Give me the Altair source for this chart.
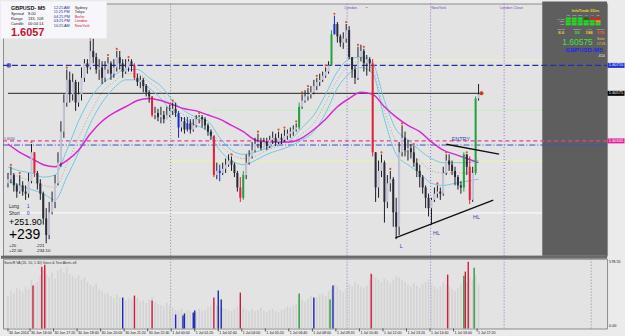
import altair as alt
import pandas as pd

FONT = "Liberation Sans"

# ---------------------------------------------------------------- values
# GBPUSD M5, one candle every 10 minutes, minute 0 = 30 Jun 2014 14:45
bar_minute = list(range(0, 1610, 10))
first_open = 1.6014
close = [1.6016, 1.6018, 1.6013, 1.6010, 1.6013, 1.6010, 1.6009, 1.6015, 1.6029, 1.6019,
         1.6014, 1.6009, 1.5997, 1.5989, 1.6000, 1.6005, 1.6014, 1.6024, 1.6039, 1.6053,
         1.6064, 1.6057, 1.6063, 1.6053, 1.6057, 1.6065, 1.6072, 1.6070, 1.6078, 1.6075,
         1.6069, 1.6070, 1.6065, 1.6069, 1.6072, 1.6067, 1.6070, 1.6075, 1.6072, 1.6068,
         1.6070, 1.6073, 1.6071, 1.6065, 1.6063, 1.6064, 1.6061, 1.6058, 1.6056, 1.6047,
         1.6048, 1.6046, 1.6047, 1.6045, 1.6047, 1.6049, 1.6050, 1.6048, 1.6041, 1.6044,
         1.6040, 1.6043, 1.6040, 1.6042, 1.6045, 1.6046, 1.6045, 1.6042, 1.6039, 1.6037,
         1.6018, 1.6020, 1.6019, 1.6021, 1.6023, 1.6025, 1.6023, 1.6019, 1.6012, 1.6007,
         1.6018, 1.6024, 1.6027, 1.6030, 1.6033, 1.6034, 1.6031, 1.6034, 1.6032, 1.6035,
         1.6036, 1.6034, 1.6036, 1.6035, 1.6037, 1.6038, 1.6039, 1.6040, 1.6041, 1.6051,
         1.6054, 1.6056, 1.6057, 1.6058, 1.6061, 1.6063, 1.6064, 1.6066, 1.6068, 1.6071,
         1.6086, 1.6091, 1.6085, 1.6082, 1.6084, 1.6088, 1.6075, 1.6069, 1.6065, 1.6075,
         1.6078, 1.6072, 1.6074, 1.6072, 1.6029, 1.6012, 1.6020, 1.6024, 1.6005, 1.6014,
         1.6016, 1.6000, 1.5993, 1.6029, 1.6036, 1.6030, 1.6031, 1.6029, 1.6024, 1.6020,
         1.6017, 1.6012, 1.6007, 1.6002, 1.6006, 1.6009, 1.6010, 1.6009, 1.6019, 1.6025,
         1.6023, 1.6020, 1.6017, 1.6013, 1.6012, 1.6028, 1.6022, 1.6006, 1.6019, 1.6055,
         1.6057]
high = [1.6019, 1.6022, 1.6019, 1.6014, 1.6018, 1.6015, 1.6013, 1.6019, 1.6033, 1.6029,
        1.6020, 1.6016, 1.6010, 1.6002, 1.6005, 1.6010, 1.6018, 1.6029, 1.6044, 1.6057,
        1.6069, 1.6068, 1.6067, 1.6064, 1.6063, 1.6070, 1.6074, 1.6074, 1.6083, 1.6084,
        1.6077, 1.6074, 1.6073, 1.6073, 1.6075, 1.6073, 1.6074, 1.6078, 1.6078, 1.6074,
        1.6074, 1.6074, 1.6074, 1.6072, 1.6067, 1.6066, 1.6065, 1.6062, 1.6059, 1.6056,
        1.6051, 1.6050, 1.6051, 1.6049, 1.6051, 1.6052, 1.6053, 1.6053, 1.6049, 1.6046,
        1.6046, 1.6046, 1.6045, 1.6045, 1.6047, 1.6047, 1.6047, 1.6046, 1.6043, 1.6040,
        1.6037, 1.6024, 1.6023, 1.6024, 1.6026, 1.6028, 1.6027, 1.6024, 1.6020, 1.6017,
        1.6020, 1.6028, 1.6030, 1.6034, 1.6036, 1.6038, 1.6036, 1.6036, 1.6036, 1.6037,
        1.6039, 1.6038, 1.6039, 1.6038, 1.6040, 1.6040, 1.6041, 1.6042, 1.6043, 1.6053,
        1.6057, 1.6059, 1.6060, 1.6061, 1.6064, 1.6065, 1.6067, 1.6068, 1.6070, 1.6073,
        1.6088, 1.6095, 1.6092, 1.6086, 1.6087, 1.6091, 1.6090, 1.6075, 1.6071, 1.6080,
        1.6081, 1.6079, 1.6076, 1.6075, 1.6074, 1.6029, 1.6025, 1.6028, 1.6025, 1.6018,
        1.6020, 1.6017, 1.6007, 1.6034, 1.6042, 1.6039, 1.6035, 1.6033, 1.6032, 1.6026,
        1.6023, 1.6018, 1.6013, 1.6009, 1.6007, 1.6012, 1.6013, 1.6012, 1.6022, 1.6028,
        1.6028, 1.6025, 1.6022, 1.6018, 1.6015, 1.6029, 1.6028, 1.6027, 1.6022, 1.6056,
        1.6062]
low = [1.6012, 1.6014, 1.6010, 1.6007, 1.6009, 1.6008, 1.6006, 1.6007, 1.6014, 1.6017,
       1.6011, 1.6006, 1.5994, 1.5985, 1.5987, 1.5999, 1.6002, 1.6013, 1.6022, 1.6036,
       1.6051, 1.6053, 1.6054, 1.6049, 1.6051, 1.6054, 1.6063, 1.6067, 1.6069, 1.6072,
       1.6067, 1.6064, 1.6062, 1.6063, 1.6067, 1.6064, 1.6065, 1.6068, 1.6069, 1.6065,
       1.6067, 1.6068, 1.6068, 1.6064, 1.6061, 1.6060, 1.6058, 1.6056, 1.6053, 1.6046,
       1.6045, 1.6044, 1.6043, 1.6043, 1.6045, 1.6046, 1.6047, 1.6046, 1.6036, 1.6039,
       1.6038, 1.6039, 1.6038, 1.6039, 1.6041, 1.6043, 1.6041, 1.6040, 1.6037, 1.6035,
       1.6017, 1.6016, 1.6015, 1.6018, 1.6019, 1.6022, 1.6020, 1.6017, 1.6010, 1.6005,
       1.6006, 1.6016, 1.6023, 1.6026, 1.6029, 1.6031, 1.6030, 1.6031, 1.6030, 1.6031,
       1.6033, 1.6032, 1.6033, 1.6033, 1.6034, 1.6035, 1.6036, 1.6037, 1.6039, 1.6040,
       1.6050, 1.6053, 1.6054, 1.6055, 1.6057, 1.6059, 1.6061, 1.6063, 1.6065, 1.6067,
       1.6071, 1.6086, 1.6082, 1.6080, 1.6079, 1.6082, 1.6074, 1.6065, 1.6062, 1.6064,
       1.6073, 1.6068, 1.6066, 1.6068, 1.6027, 1.6005, 1.6007, 1.6017, 1.5995, 1.6002,
       1.6010, 1.5993, 1.5987, 1.5989, 1.6027, 1.6027, 1.6025, 1.6026, 1.6022, 1.6017,
       1.6012, 1.6009, 1.6002, 1.5998, 1.5994, 1.6005, 1.6007, 1.6006, 1.6008, 1.6018,
       1.6020, 1.6018, 1.6013, 1.6011, 1.6009, 1.6010, 1.6018, 1.6004, 1.6005, 1.6018,
       1.6054]
# SonicR VA candle classes: dn = climax down, up = climax up, lv = low volume
special = {9: "dn", 43: "dn", 49: "dn", 70: "dn", 79: "dn", 124: "dn", 157: "dn",
           80: "up", 99: "up", 110: "up", 155: "up", 159: "up",
           58: "lv", 61: "lv", 72: "lv", 111: "lv"}
fractal_bars = [1, 4, 8, 20, 28, 34, 37, 41, 56, 65, 76, 85, 92, 94, 98, 100, 102, 105,
                108, 111, 115, 119, 121, 127, 130, 134, 138, 146, 149, 156]

volume = [280, 320, 300, 350, 330, 310, 360, 340,
          420, 380, 400, 460, 500, 470, 440, 480, 430,
          500, 520, 480, 530, 470, 450, 430,
          460, 420, 440, 400, 380, 360, 390, 340, 320, 300,
          300, 280, 260, 290, 270, 250, 240, 260, 250, 270,
          260, 230, 240, 220, 250, 270, 230, 210, 200, 190, 220, 200,
          180, 160, 150, 170, 140, 160, 150, 130, 140, 170, 150, 160, 180, 200, 230, 200,
          190, 180, 170, 160, 150, 170, 190, 210, 180, 160, 150,
          170, 150, 160, 180, 150, 140, 160, 170, 150, 140, 160, 170, 190, 180, 200, 210, 240,
          250, 230, 260, 280, 250, 270, 290, 300, 280, 320, 340, 380, 360, 330, 310,
          340, 380, 360, 400, 380, 360, 350, 370, 420, 460, 440, 420, 400, 430, 410, 390, 420, 450,
          440, 420, 400, 380, 360, 390, 370, 350, 380, 400, 420, 380, 360, 340,
          360, 400, 380, 360, 340, 320, 350, 380, 420, 400, 440, 420, 460, 380]
vol_col_minute = [85, 115, 125, 390, 430, 490, 570, 595, 600, 630, 635, 700, 715, 725,
                  790, 990, 1040, 1095, 1105, 1235, 1495, 1550, 1555, 1565, 1585]
vol_col_value = [369, 531, 549, 266, 283, 240, 120, 111, 129, 137, 154, 266, 326, 249,
                 309, 300, 266, 249, 369, 471, 463, 454, 489, 574, 523]
vol_col_kind = ["dn", "dn", "dn", "lv", "dn", "dn", "lv", "lv", "lv", "lv", "lv", "dn", "lv", "lv",
                "dn", "up", "lv", "up", "lv", "dn", "dn", "up", "dn", "dn", "up"]

ema_minute = list(range(0, 1640, 40))
ema_magenta = [1.6033, 1.6029, 1.6026, 1.6023, 1.6022, 1.6025, 1.6030, 1.6038, 1.6044, 1.6048,
               1.6051, 1.6054, 1.6055, 1.6054, 1.6052, 1.6050, 1.6049, 1.6047, 1.6045, 1.6042,
               1.6039, 1.6035, 1.6034, 1.6034, 1.6034, 1.6036, 1.6040, 1.6045, 1.6051, 1.6055,
               1.6058, 1.6057, 1.6051, 1.6046, 1.6042, 1.6039, 1.6034, 1.6030, 1.6028, 1.6026,
               1.6024]
ema_hi = [1.6022, 1.6020, 1.6019, 1.6017, 1.6018, 1.6030, 1.6044, 1.6055, 1.6062, 1.6066,
          1.6069, 1.6069, 1.6065, 1.6061, 1.6054, 1.6049, 1.6046, 1.6044, 1.6036, 1.6030,
          1.6028, 1.6029, 1.6031, 1.6033, 1.6035, 1.6041, 1.6047, 1.6057, 1.6068, 1.6074,
          1.6075, 1.6072, 1.6054, 1.6040, 1.6035, 1.6030, 1.6026, 1.6024, 1.6024, 1.6024,
          1.6025]
ema_lo = [1.6015, 1.6013, 1.6011, 1.6009, 1.6006, 1.6017, 1.6029, 1.6043, 1.6053, 1.6060,
          1.6064, 1.6064, 1.6060, 1.6055, 1.6048, 1.6045, 1.6042, 1.6039, 1.6030, 1.6025,
          1.6023, 1.6025, 1.6028, 1.6030, 1.6032, 1.6035, 1.6039, 1.6048, 1.6060, 1.6067,
          1.6070, 1.6067, 1.6045, 1.6028, 1.6023, 1.6019, 1.6014, 1.6013, 1.6014, 1.6015,
          1.6016]
ema_mid = [1.6019, 1.6017, 1.6015, 1.6013, 1.6012, 1.6023, 1.6036, 1.6048, 1.6058, 1.6063,
           1.6067, 1.6067, 1.6063, 1.6058, 1.6051, 1.6047, 1.6045, 1.6042, 1.6033, 1.6028,
           1.6026, 1.6027, 1.6030, 1.6032, 1.6034, 1.6038, 1.6043, 1.6053, 1.6064, 1.6071,
           1.6073, 1.6069, 1.6049, 1.6034, 1.6029, 1.6025, 1.6020, 1.6019, 1.6019, 1.6019,
           1.6021]

price_ticks = [1.60995, 1.60935, 1.60875, 1.60815, 1.60755, 1.60695, 1.60635, 1.60575,
               1.60515, 1.60455, 1.60395, 1.60335, 1.60275, 1.60215, 1.60155, 1.60095,
               1.60035, 1.59975, 1.59915, 1.59855, 1.59795]
time_tick_minute = [0, 75, 155, 235, 315, 395, 475, 555, 635, 715, 795, 875, 955, 1035,
                    1115, 1195, 1275, 1355, 1435, 1515, 1595]
time_tick_label = ["30 Jun 2014", "30 Jun 16:00", "30 Jun 17:20", "30 Jun 18:40",
                   "30 Jun 20:00", "30 Jun 21:20", "30 Jun 22:40", "1 Jul 00:00",
                   "1 Jul 01:20", "1 Jul 02:40", "1 Jul 04:00", "1 Jul 05:20", "1 Jul 06:40",
                   "1 Jul 08:00", "1 Jul 09:20", "1 Jul 10:40", "1 Jul 12:00", "1 Jul 13:20",
                   "1 Jul 14:40", "1 Jul 16:00", "1 Jul 17:20"]

day_break_minute = [553]
session_minute = [1153, 1437, 1687]
right_marker_minute = [1983]

level_blue = 1.60710
level_bid = 1.60575
level_magenta = 1.60345
level_dashdot = 1.60325
bid_end_minute = 1610
pale_levels = [1.60734, 1.60247, 1.60493, 1.59997]
pale_start = [553, 553, 693, 0]
pale_colors = ["#eeeec2", "#eeeec2", "#c8ecc8", "#f6f6ff"]

support_t = [1317, 1650]
support_p = [1.59876, 1.60059]
resist_t = [1490, 1670]
resist_p = [1.60329, 1.60281]

mark_text_labels = ["ENTRY", "L", "HL", "HL"]
mark_text_t = [1540, 1337, 1457, 1593]
mark_text_p = [1.60353, 1.59838, 1.59900, 1.59977]

# ---------------------------------------------------------------- helpers
W, H_MAIN, H_VOL = 606, 253, 70
XS = alt.Scale(domain=[0, 2020], nice=False, zero=False)
YS = alt.Scale(domain=[1.59790, 1.61009], nice=False, zero=False)
VS = alt.Scale(domain=[0, 600], nice=False, zero=False)
ONE = alt.Data(values=[{"k": 0}])


def X(f):
    return alt.X(f, scale=XS, axis=None)


def Y(f):
    return alt.Y(f, scale=YS, axis=None)


def txt(s, x, y, size=4.0, color="#111111", weight="normal", align="left"):
    return alt.Chart(ONE).mark_text(
        text=s, fontSize=size, color=color, fontWeight=weight, align=align,
        baseline="middle", font=FONT
    ).encode(x=alt.value(x), y=alt.value(y))


def box(x1, x2, y1, y2, color):
    return alt.Chart(ONE).mark_rect(color=color).encode(
        x=alt.value(x1), x2=alt.value(x2), y=alt.value(y1), y2=alt.value(y2))


# ---------------------------------------------------------------- tables
opens = [first_open] + close[:-1]
kind = [special.get(i, "bull" if c >= o else "bear")
        for i, (o, c) in enumerate(zip(opens, close))]
candles = pd.DataFrame(dict(t=bar_minute, open=opens, high=high, low=low,
                            close=close, kind=kind))
frac = candles.iloc[fractal_bars]
ema = pd.DataFrame(dict(t=ema_minute, mag=ema_magenta, hi=ema_hi, lo=ema_lo, mid=ema_mid))
vol_df = pd.DataFrame(dict(t=bar_minute, v=volume))
volc_df = pd.DataFrame(dict(t=vol_col_minute, v=vol_col_value, kind=vol_col_kind))

kinds = ["bull", "bear", "dn", "up", "lv"]
body_scale = alt.Scale(domain=kinds, range=["#c2c4d8", "#2a2a38", "#e0203c", "#23a043", "#1c2cc4"])
wick_scale = alt.Scale(domain=kinds, range=["#1c1c26", "#1c1c26", "#e0203c", "#23a043", "#1c2cc4"])

price_axis = alt.Axis(orient="right", values=price_ticks, format=".5f", labelFontSize=4,
                      labelFont=FONT, labelColor="#111111", tickSize=2, tickColor="#555555",
                      labelPadding=1, domainColor="#8c8c8c", grid=False, title=None,
                      labelOverlap=False)

# ---------------------------------------------------------------- main panel
main_layers = []
for lvl, st, col in zip(pale_levels, pale_start, pale_colors):
    d = pd.DataFrame(dict(t0=[st], t1=[2020], p=[lvl]))
    main_layers.append(alt.Chart(d).mark_rule(color=col, strokeWidth=1.2).encode(
        x=X("t0:Q"), x2="t1:Q", y=Y("p:Q")))

# dark info panel
main_layers.append(box(541, 606, -2, 253, "#5e5e5e"))

main_layers.append(alt.Chart(pd.DataFrame(dict(t=day_break_minute))).mark_rule(
    color="#8a8a8a", strokeDash=[1, 2], strokeWidth=1).encode(
    x=X("t:Q"), y=alt.value(0), y2=alt.value(H_MAIN)))
main_layers.append(alt.Chart(pd.DataFrame(dict(t=session_minute))).mark_rule(
    color="#9a6ad8", strokeDash=[1, 2], strokeWidth=1).encode(
    x=X("t:Q"), y=alt.value(0), y2=alt.value(H_MAIN)))

for lvl, col, dash, sw in [(level_blue, "#2a2ab8", [6, 3], 1.1),
                           (level_magenta, "#e040a8", [4, 3], 1.1),
                           (level_dashdot, "#3a50c0", [6, 2, 1, 2], 1.0)]:
    main_layers.append(alt.Chart(pd.DataFrame(dict(p=[lvl]))).mark_rule(
        color=col, strokeDash=dash, strokeWidth=sw).encode(
        y=Y("p:Q"), x=alt.value(0), x2=alt.value(W)))
main_layers.append(alt.Chart(pd.DataFrame(dict(t0=[0], t1=[bid_end_minute], p=[level_bid]))).mark_rule(
    color="#222222", strokeWidth=1).encode(x=X("t0:Q"), x2="t1:Q", y=Y("p:Q")))

main_layers.append(alt.Chart(ema).mark_line(color="#70c8e4", strokeWidth=1, interpolate="monotone").encode(
    x=X("t:Q"), y=Y("hi:Q")))
main_layers.append(alt.Chart(ema).mark_line(color="#70c8e4", strokeWidth=1, interpolate="monotone").encode(
    x=X("t:Q"), y=Y("lo:Q")))
main_layers.append(alt.Chart(ema).mark_line(color="#9a9a9a", strokeWidth=0.8, strokeDash=[1, 2],
                                            interpolate="monotone").encode(x=X("t:Q"), y=Y("mid:Q")))
main_layers.append(alt.Chart(ema).mark_line(color="#d42ad0", strokeWidth=1.5, interpolate="monotone").encode(
    x=X("t:Q"), y=Y("mag:Q")))

# candles
main_layers.append(alt.Chart(candles).mark_rule(strokeWidth=1).encode(
    x=X("t:Q"), y=alt.Y("low:Q", scale=YS, axis=price_axis), y2="high:Q",
    stroke=alt.Stroke("kind:N", scale=wick_scale, legend=None)))
main_layers.append(alt.Chart(candles).mark_bar(size=2).encode(
    x=X("t:Q"), y=Y("open:Q"), y2="close:Q",
    fill=alt.Fill("kind:N", scale=body_scale, legend=None)))
main_layers.append(alt.Chart(frac).mark_circle(size=5, color="#e8502a", opacity=1, yOffset=-2).encode(
    x=X("t:Q"), y=Y("high:Q")))

# trend lines
tl = pd.DataFrame(dict(t1=[support_t[0], resist_t[0]], t2=[support_t[1], resist_t[1]],
                       p1=[support_p[0], resist_p[0]], p2=[support_p[1], resist_p[1]]))
main_layers.append(alt.Chart(tl).mark_rule(color="#111111", strokeWidth=1.4).encode(
    x=X("t1:Q"), x2="t2:Q", y=Y("p1:Q"), y2="p2:Q"))

main_layers.append(alt.Chart(pd.DataFrame(dict(t=[bid_end_minute], p=[level_bid]))).mark_circle(
    size=16, color="#e03020", opacity=1).encode(x=X("t:Q"), y=Y("p:Q")))
main_layers.append(alt.Chart(pd.DataFrame(dict(t=[3], p=[level_blue]))).mark_point(
    size=8, color="#2a2ab8", filled=False).encode(x=X("t:Q"), y=Y("p:Q")))

lab = pd.DataFrame(dict(t=mark_text_t, p=mark_text_p, s=mark_text_labels))
main_layers.append(alt.Chart(lab).mark_text(fontSize=5.5, color="#4040b0", font=FONT).encode(
    x=X("t:Q"), y=Y("p:Q"), text="s:N"))

# highlighted price boxes on the axis
for lvl, col, s in [(level_blue, "#2030d0", "1.60710"), (level_bid, "#000000", "1.60575"),
                    (level_magenta, "#e020a0", "1.60345")]:
    d = pd.DataFrame(dict(p=[lvl]))
    main_layers.append(alt.Chart(d).mark_tick(orient="horizontal", size=17, thickness=5,
                                              color=col, opacity=1).encode(
        x=alt.value(615), y=Y("p:Q")))
    main_layers.append(alt.Chart(d).mark_text(text=s, fontSize=4, color="#ffffff", font=FONT).encode(
        x=alt.value(615), y=Y("p:Q")))

# top-left info box
main_layers.append(box(-2, 104, -2, 35, "#f7f7fb"))
annot = [
    ("GBPUSD-  M5", 8, 4, 5.5, "#111111", "bold", "left"),
    ("Spread", 8, 10.5, 4, "#222222", "normal", "left"),
    ("8.00", 25, 10.5, 4, "#222222", "normal", "left"),
    ("Range", 8, 15.5, 4, "#222222", "normal", "left"),
    ("133, 108", 25, 15.5, 4, "#222222", "normal", "left"),
    ("Candle", 8, 20.5, 4, "#222222", "normal", "left"),
    ("00:04:14", 25, 20.5, 4, "#222222", "normal", "left"),
    ("1.6057", 8, 30, 11, "#c0142c", "bold", "left"),
    ("12:25 AM", 51, 4, 3.8, "#1a2a8a", "normal", "left"),
    ("11:25 PM", 51, 8.6, 3.8, "#1a2a8a", "normal", "left"),
    ("04:25 PM", 51, 13.2, 3.8, "#1a2a8a", "normal", "left"),
    ("03:25 PM", 51, 17.8, 3.8, "#1a2a8a", "normal", "left"),
    ("10:25 AM", 51, 22.4, 3.8, "#1a2a8a", "normal", "left"),
    ("Sydney", 72, 4, 3.8, "#222222", "normal", "left"),
    ("Tokyo", 72, 8.6, 3.8, "#222222", "normal", "left"),
    ("Berlin", 72, 13.2, 3.8, "#d02030", "normal", "left"),
    ("London", 72, 17.8, 3.8, "#d02030", "normal", "left"),
    ("NewYork", 72, 22.4, 3.8, "#d02030", "normal", "left"),
    # bottom-left trade box
    ("Long", 6, 204, 4.5, "#222222", "normal", "left"),
    ("1", 24, 204, 4.5, "#2030c0", "normal", "left"),
    ("Short", 6, 211, 4.5, "#222222", "normal", "left"),
    ("0", 24, 211, 4.5, "#2030c0", "normal", "left"),
    ("+251.90", 6, 219, 9.0, "#000000", "normal", "left"),
    ("+239", 6, 232, 14, "#000000", "normal", "left"),
    ("+20", 6, 242.8, 4.3, "#111111", "normal", "left"),
    ("-221", 33, 242.8, 4.3, "#111111", "normal", "left"),
    ("+22.00", 6, 248.6, 4.3, "#111111", "normal", "left"),
    ("-234.10", 33, 248.6, 4.3, "#111111", "normal", "left"),
    # session labels
    ("London", 349, 4, 3.8, "#7a4cc8", "normal", "center"),
    ("-", 365, 3.5, 5, "#e02020", "bold", "center"),
    ("NewYork", 437, 4, 3.8, "#7a4cc8", "normal", "center"),
    ("London Close", 510, 4, 3.8, "#7a4cc8", "normal", "center"),
    ("1.6034", 1, 135.5, 3.5, "#7a3a7a", "normal", "left"),
    # info panel
    ("InfoTrade 5Dec", 584.5, 8, 3.9, "#e6d23a", "bold", "center"),
    ("Spread", 560, 25.5, 2.3, "#d8d8d8", "normal", "center"),
    ("ToOpen", 576, 25.5, 2.3, "#d8d8d8", "normal", "center"),
    ("Hi-Lo", 588, 25.5, 2.3, "#d8d8d8", "normal", "center"),
    ("toClose", 599.5, 25.5, 2.3, "#d8d8d8", "normal", "center"),
    ("8.0", 560, 30, 4.3, "#e6d23a", "bold", "center"),
    ("59", 576, 30, 4.3, "#40e040", "bold", "center"),
    ("188", 588, 30, 4.3, "#e6d23a", "bold", "center"),
    ("178", 599.5, 30, 4.3, "#ff5a3c", "bold", "center"),
    ("1.60575", 561, 38.5, 8.5, "#3ee23e", "normal", "left"),
    ("Broker", 600, 36, 2.6, "#e6d23a", "normal", "center"),
    ("17:26", 600, 40.5, 3.4, "#e6d23a", "normal", "center"),
    ("GBPUSD-M5", 583, 47, 6.2, "#2424f0", "bold", "center"),
    ("414", 604, 53, 4, "#e8e8e8", "normal", "right"),
]
for r_lab, ry in zip(["MACD", "STR", "RSI"], [15.2, 18, 20.8]):
    annot.append((r_lab, 563, ry, 2.2, "#d8d8d8", "normal", "right"))
for c_lab, cx in zip(["M5", "M15", "M30", "H1", "H4", "D1"], [567, 573, 579, 585, 591, 597]):
    annot.append((c_lab, cx, 12, 2.2, "#d8d8d8", "normal", "center"))
for s, x, y, size, col, wt, al in annot:
    main_layers.append(txt(s, x, y, size, col, wt, al))

cell_colors = [["#22dd22", "#22dd22", "#22dd22", "#0e6e0e", "#dd2020", "#dd2020"],
               ["#22dd22", "#22dd22", "#22dd22", "#22dd22", "#22dd22", "#e0a020"],
               ["#22dd22", "#22dd22", "#22dd22", "#22dd22", "#22dd22", "#22dd22"]]
for r in range(3):
    for c in range(6):
        main_layers.append(box(564.5 + c * 6, 569.5 + c * 6, 14 + r * 2.8, 16.3 + r * 2.8,
                               cell_colors[r][c]))

# separator between panels
main_layers.append(box(-2, 606, 253, 256, "#6a6a6a"))

main = alt.layer(*main_layers).properties(width=W, height=H_MAIN)

# ---------------------------------------------------------------- volume panel
vl = []
vl.append(alt.Chart(pd.DataFrame(dict(t=day_break_minute + right_marker_minute))).mark_rule(
    color="#8a8a8a", strokeDash=[1, 2], strokeWidth=1).encode(
    x=alt.X("t:Q", scale=XS, axis=None), y=alt.value(0), y2=alt.value(H_VOL)))
vl.append(alt.Chart(pd.DataFrame(dict(t=session_minute))).mark_rule(
    color="#9a6ad8", strokeDash=[1, 2], strokeWidth=1).encode(
    x=alt.X("t:Q", scale=XS, axis=None), y=alt.value(0), y2=alt.value(H_VOL)))
vl.append(alt.Chart(vol_df).mark_bar(size=1.6, color="#d3d3d3").encode(
    x=alt.X("t:Q", scale=XS, axis=None), y=alt.Y("v:Q", scale=VS, axis=None)))
vl.append(alt.Chart(volc_df).mark_bar(size=1.4).encode(
    x=alt.X("t:Q", scale=XS, axis=None), y=alt.Y("v:Q", scale=VS, axis=None),
    color=alt.Color("kind:N", scale=alt.Scale(domain=["dn", "up", "lv"],
                                              range=["#d01c3c", "#2a9a3a", "#1c28b8"]),
                    legend=None)))
vl.append(txt("SonicR VA (20, 10, 1.30)  Voice & Text Alerts off.", 1, 4, 3.5, "#333333"))
vl.append(txt("578.55", 608, 3, 3.8, "#111111"))
vl.append(txt("0.00", 608, 68, 3.8, "#111111"))
tt = pd.DataFrame(dict(t=time_tick_minute, s=time_tick_label))
vl.append(alt.Chart(tt).mark_rule(color="#333333", strokeWidth=0.8).encode(
    x=alt.X("t:Q", scale=XS, axis=None), y=alt.value(H_VOL), y2=alt.value(H_VOL + 3)))
vl.append(alt.Chart(tt).mark_text(fontSize=3.6, color="#111111", align="left", dx=1,
                                  font=FONT).encode(
    x=alt.X("t:Q", scale=XS, axis=None), y=alt.value(H_VOL + 5), text="s:N"))

volp = alt.layer(*vl).properties(width=W, height=H_VOL)

chart = alt.vconcat(main, volp, spacing=3, bounds="flush").properties(
    padding={"left": 0, "top": 0, "right": 0, "bottom": 0},
    background="#ebebeb",
).configure_view(fill="#e3e3e3", stroke="#8c8c8c", strokeWidth=1)

chart.save("out.html", embed_options={"renderer": "svg", "actions": False})
